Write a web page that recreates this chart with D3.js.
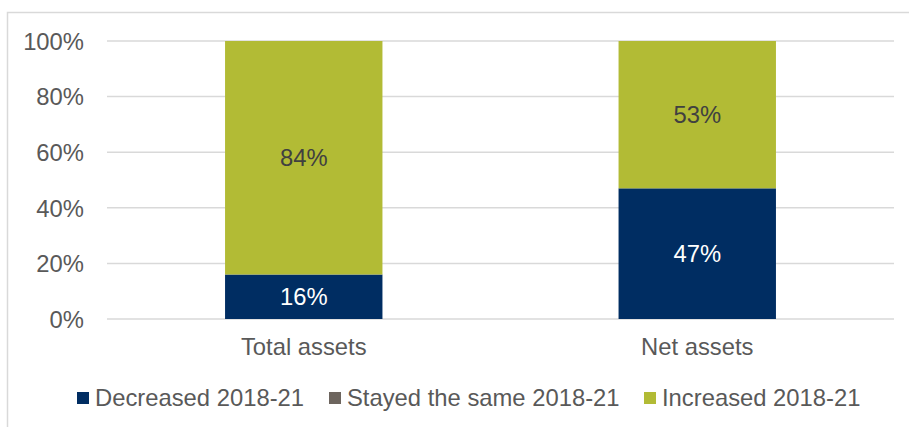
<!DOCTYPE html>
<html><head><meta charset="utf-8">
<script src="https://cdn.jsdelivr.net/npm/d3@7"></script>
<style>body{margin:0;background:#fff;} svg{display:block;font-family:"Liberation Sans",Arial,sans-serif;}</style>
</head><body>
<svg id="c" width="909" height="427"></svg>
<script>
const categories = ["Total assets", "Net assets"];
const seriesNames = ["Decreased 2018-21", "Stayed the same 2018-21", "Increased 2018-21"];
const decreased = [16, 47];
const stayedSame = [0, 0];
const increased = [84, 53];
const yTicks = [0, 20, 40, 60, 80, 100];
const colors = ["#002d62", "#6d655e", "#b2bb35"];
const labelColors = ["#ffffff", "#ffffff", "#404040"];
const FS = 23.8;

const svg = d3.select("#c");
svg.append("rect").attr("x", 7.5).attr("y", 12.5).attr("width", 920).attr("height", 430)
  .attr("fill", "none").attr("stroke", "#d9d9d9").attr("stroke-width", 1.5);

const x = d3.scaleBand().domain(categories).range([107, 894]).paddingInner(0.6).paddingOuter(0.3);
const y = d3.scaleLinear().domain([0, 100]).range([319, 41]);

const g = svg.append("g");
g.selectAll("line.grid").data(yTicks).join("line")
  .attr("x1", 107).attr("x2", 894).attr("y1", d => y(d)).attr("y2", d => y(d))
  .attr("stroke", "#d9d9d9").attr("stroke-width", 1.5);

const yAxis = d3.axisLeft(y).tickValues(yTicks).tickFormat(d => d + "%").tickSize(0).tickPadding(0);
const ya = svg.append("g").attr("transform", "translate(84,0)").call(yAxis);
ya.select(".domain").remove();
ya.selectAll("text").attr("font-size", FS).attr("fill", "#595959").attr("dy", "0.35em").style("font-family", "inherit");

const xAxis = d3.axisBottom(x).tickSize(0).tickPadding(0);
const xa = svg.append("g").attr("transform", "translate(0,347)").call(xAxis);
xa.select(".domain").remove();
xa.selectAll("text").attr("font-size", FS).attr("fill", "#595959").attr("dy", "0.35em").style("font-family", "inherit");

const rows = categories.map((c, i) => ({cat: c, d: decreased[i], s: stayedSame[i], inc: increased[i]}));
const stack = d3.stack().keys(["d", "s", "inc"])(rows);

stack.forEach((layer, li) => {
  const lg = svg.append("g");
  lg.selectAll("rect").data(layer).join("rect")
    .attr("x", d => x(d.data.cat)).attr("width", x.bandwidth())
    .attr("y", d => y(d[1])).attr("height", d => y(d[0]) - y(d[1]))
    .attr("fill", colors[li]);
  lg.selectAll("text").data(layer.filter(d => d[1] - d[0] > 0)).join("text")
    .attr("x", d => x(d.data.cat) + x.bandwidth() / 2)
    .attr("y", d => (y(d[0]) + y(d[1])) / 2)
    .attr("dy", "0.35em").attr("text-anchor", "middle")
    .attr("font-size", FS).attr("fill", labelColors[li])
    .text(d => Math.round(d[1] - d[0]) + "%");
});

const legendX = [77, 329, 644];
const leg = svg.append("g");
seriesNames.forEach((n, i) => {
  leg.append("rect").attr("x", legendX[i]).attr("y", 392).attr("width", 12).attr("height", 12).attr("fill", colors[i]);
  leg.append("text").attr("x", legendX[i] + 18).attr("y", 398).attr("dy", "0.35em")
    .attr("font-size", FS).attr("fill", "#595959").text(n);
});
</script>
</body></html>
